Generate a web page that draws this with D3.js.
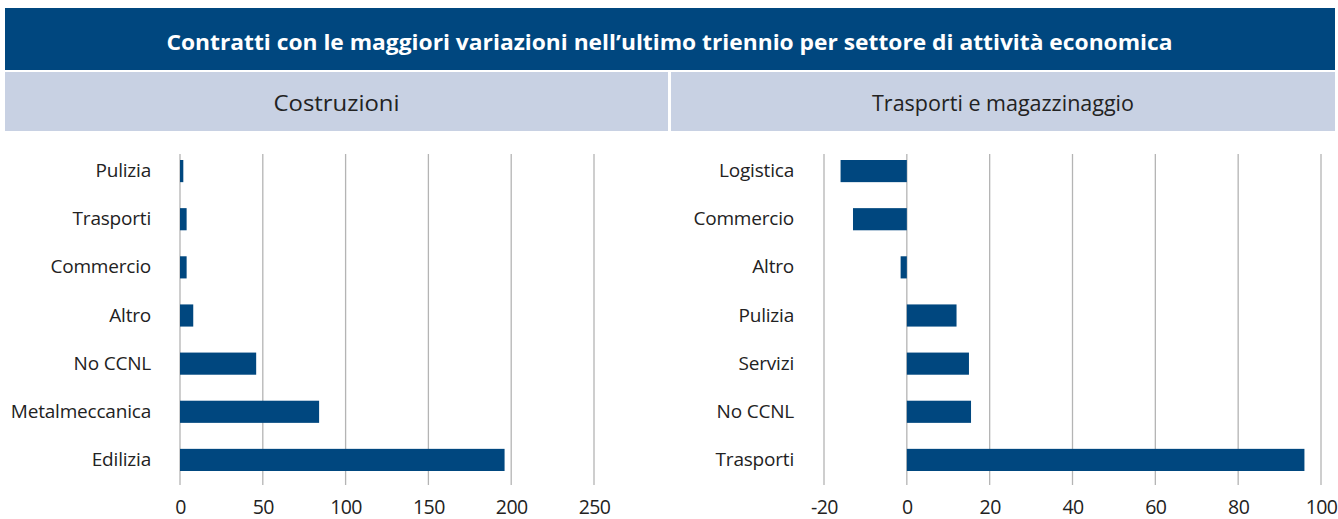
<!DOCTYPE html>
<html>
<head>
<meta charset="utf-8">
<script src="https://cdn.jsdelivr.net/npm/d3@7"></script>
<style>
  html, body { margin: 0; padding: 0; background: #fff; }
  svg { display: block; }
  text { font-family: "Open Sans", "Noto Sans", sans-serif; }
</style>
</head>
<body>
<svg id="chart" width="1338" height="519"></svg>
<script>
// Contract variations over the last three years, by economic sector
const title = "Contratti con le maggiori variazioni nell\u2019ultimo triennio per settore di attività economica";

const costruzioniLabel = "Costruzioni";
const costruzioniCategories = ["Pulizia", "Trasporti", "Commercio", "Altro", "No CCNL", "Metalmeccanica", "Edilizia"];
const costruzioniValues = [2, 4, 4, 8, 46, 84, 196];
const costruzioniTicks = [0, 50, 100, 150, 200, 250];

const trasportiLabel = "Trasporti e magazzinaggio";
const trasportiCategories = ["Logistica", "Commercio", "Altro", "Pulizia", "Servizi", "No CCNL", "Trasporti"];
const trasportiValues = [-16, -13, -1.5, 12, 15, 15.5, 96];
const trasportiTicks = [-20, 0, 20, 40, 60, 80, 100];

const DARK = "#00477f";
const LIGHT = "#c8d1e3";
const GRID = "#b4b4b4";
const TEXT = "#222";

const svg = d3.select("#chart");

// Title band
svg.append("rect").attr("x", 5).attr("y", 8).attr("width", 1330).attr("height", 62).attr("fill", DARK);
svg.append("text")
  .attr("x", 669.5).attr("y", 41)
  .attr("text-anchor", "middle").attr("dominant-baseline", "central")
  .attr("fill", "#fff").attr("font-weight", 700).attr("font-size", 22)
  .attr("textLength", 1006).attr("lengthAdjust", "spacingAndGlyphs")
  .text(title);

function panel(opts) {
  // Panel subheader
  svg.append("rect")
    .attr("x", opts.bandX).attr("y", 72).attr("width", opts.bandW).attr("height", 59)
    .attr("fill", LIGHT);
  svg.append("text")
    .attr("x", opts.bandX + opts.bandW / 2).attr("y", 102)
    .attr("text-anchor", "middle").attr("dominant-baseline", "central")
    .attr("fill", TEXT).attr("font-size", 22)
    .attr("textLength", opts.headW).attr("lengthAdjust", "spacingAndGlyphs")
    .text(opts.label);

  const x = d3.scaleLinear().domain(opts.domain).range(opts.xRange);
  const y = d3.scaleBand().domain(opts.categories).range([147, 484])
    .paddingInner(0.54).paddingOuter(0.27);

  const g = svg.append("g");

  // Vertical gridlines
  g.selectAll("line.grid").data(opts.ticks).join("line")
    .attr("class", "grid")
    .attr("x1", d => x(d)).attr("x2", d => x(d))
    .attr("y1", 154).attr("y2", 485)
    .attr("stroke", GRID).attr("stroke-width", 1.3);

  // Bars
  g.selectAll("rect.bar").data(opts.values).join("rect")
    .attr("class", "bar")
    .attr("x", d => Math.min(x(0), x(d)))
    .attr("width", d => Math.abs(x(d) - x(0)))
    .attr("y", (d, i) => y(opts.categories[i]))
    .attr("height", y.bandwidth())
    .attr("fill", DARK);

  // Category labels
  const yAxis = d3.axisLeft(y).tickSize(0).tickPadding(0);
  svg.append("g")
    .attr("transform", `translate(${opts.labelX},0)`)
    .call(yAxis)
    .call(a => a.select(".domain").remove())
    .call(a => a.selectAll("text")
      .attr("font-family", "'Open Sans', sans-serif")
      .attr("font-size", 19).attr("fill", TEXT)
      .attr("letter-spacing", "-0.2px"));

  // Value axis labels
  const xAxis = d3.axisBottom(x).tickValues(opts.ticks).tickSize(0).tickPadding(0)
    .tickFormat(d => d < 0 ? "-" + Math.abs(d) : String(d));
  svg.append("g")
    .attr("transform", "translate(0,500)")
    .call(xAxis)
    .call(a => a.select(".domain").remove())
    .call(a => a.selectAll("text")
      .attr("font-family", "'Open Sans', sans-serif")
      .attr("font-size", 19.5).attr("fill", TEXT)
      .attr("letter-spacing", "-0.6px"));
}

panel({
  label: costruzioniLabel, bandX: 5, bandW: 663, headW: 126,
  categories: costruzioniCategories, values: costruzioniValues, ticks: costruzioniTicks,
  domain: [0, 250], xRange: [180, 594], labelX: 151
});

panel({
  label: trasportiLabel, bandX: 671, bandW: 664, headW: 262,
  categories: trasportiCategories, values: trasportiValues, ticks: trasportiTicks,
  domain: [-20, 100], xRange: [824, 1321], labelX: 794
});
</script>
</body>
</html>
